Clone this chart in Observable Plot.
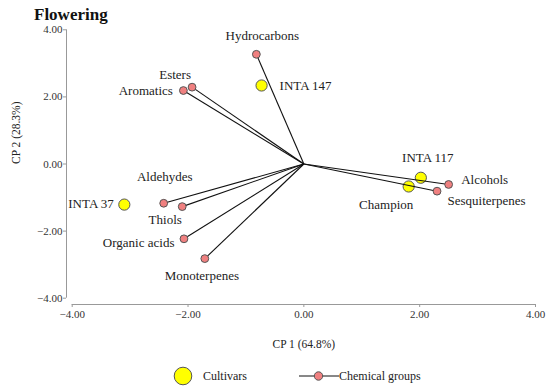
<!DOCTYPE html>
<html>
<head>
<meta charset="utf-8">
<script src="https://cdn.jsdelivr.net/npm/d3@7"></script>
<script src="https://cdn.jsdelivr.net/npm/@observablehq/plot@0.6"></script>
<style>
  html, body { margin: 0; padding: 0; background: #fff; }
  #wrap { position: relative; width: 550px; height: 392px; font-family: "Liberation Serif", serif; color: #222; }
  #title { position: absolute; left: 34px; top: 6px; font-size: 17px; line-height: 17px; font-weight: bold; color: #111; z-index: 2; }
  #legend { position: absolute; left: 173px; top: 366px; height: 20px; display: flex; align-items: center; font-size: 12px; color: #222; z-index: 2; }
  #legend svg { display: block; }
</style>
</head>
<body>
<div id="wrap">
  <div id="title">Flowering</div>
  <div id="chart"></div>
  <div id="legend">
    <svg width="20" height="20"><circle cx="10" cy="10" r="8.8" fill="#ffff00" stroke="#555" stroke-width="1"/></svg>
    <span style="margin-left:10px">Cultivars</span>
    <svg width="40" height="20" style="margin-left:52px"><line x1="0" y1="10" x2="40" y2="10" stroke="#111" stroke-width="1"/><circle cx="19.5" cy="10" r="4.2" fill="#f08080" stroke="#555" stroke-width="1"/></svg>
    <span>Chemical groups</span>
  </div>
</div>
<script>
// Cultivars (yellow points)
const cultivars = ["INTA 147", "INTA 37", "INTA 117", "Champion"];
const cultivarX = [-0.73, -3.10, 2.02, 1.81];
const cultivarY = [2.34, -1.21, -0.41, -0.67];

// Chemical groups (vectors from origin)
const groups = ["Hydrocarbons", "Esters", "Aromatics", "Aldehydes", "Thiols", "Organic acids", "Monoterpenes", "Alcohols", "Sesquiterpenes"];
const groupX = [-0.82, -1.93, -2.08, -2.42, -2.10, -2.07, -1.71, 2.50, 2.30];
const groupY = [3.27, 2.29, 2.19, -1.17, -1.27, -2.23, -2.82, -0.61, -0.81];

// Axis ticks
const ticks = [-4, -2, 0, 2, 4];
const xLabel = "CP 1 (64.8%)";
const yLabel = "CP 2 (28.3%)";

// label placement (style, in pixels relative to point)
const labelStyle = {
  "Hydrocarbons": {anchor: "middle", dx: 6, dy: -18},
  "INTA 147": {anchor: "start", dx: 18, dy: 0},
  "Esters": {anchor: "middle", dx: -17, dy: -12},
  "Aromatics": {anchor: "end", dx: -10.5, dy: 0.5},
  "Aldehydes": {anchor: "middle", dx: 1, dy: -26},
  "INTA 37": {anchor: "end", dx: -10.5, dy: -1},
  "Thiols": {anchor: "middle", dx: -17, dy: 13},
  "Organic acids": {anchor: "end", dx: -9.5, dy: 4.5},
  "Monoterpenes": {anchor: "middle", dx: -3, dy: 17},
  "INTA 117": {anchor: "middle", dx: 7, dy: -19.5},
  "Alcohols": {anchor: "start", dx: 12.5, dy: -4.5},
  "Sesquiterpenes": {anchor: "start", dx: 10.5, dy: 9.5},
  "Champion": {anchor: "middle", dx: -22.5, dy: 18}
};

const cultData = cultivars.map((name, i) => ({name, x: cultivarX[i], y: cultivarY[i]}));
const groupData = groups.map((name, i) => ({name, x: groupX[i], y: groupY[i]}));
const allLabels = [...groupData, ...cultData];

const fmt = d3.format(".2f");

const labelMarks = allLabels.map(d => {
  const s = labelStyle[d.name];
  return Plot.text([d], {x: "x", y: "y", text: "name", textAnchor: s.anchor, dx: s.dx, dy: s.dy, fill: "#222", fontSize: 13});
});

const chart = Plot.plot({
  width: 550,
  height: 392,
  marginLeft: 71.7,
  marginRight: 15,
  marginTop: 29.3,
  marginBottom: 94.3,
  x: {domain: [-4, 4], axis: null},
  y: {domain: [-4, 4], axis: null},
  style: {fontFamily: "'Liberation Serif', serif", fontSize: "13px", background: "transparent", overflow: "visible"},
  marks: [
    // axis lines (offset from the frame)
    Plot.ruleX([-4], {y1: -4, y2: 4, dx: -5.7, stroke: "#999", strokeWidth: 1}),
    Plot.ruleY([-4], {x1: -4, x2: 4, dy: 6.3, stroke: "#999", strokeWidth: 1}),
    Plot.axisX({ticks, tickSize: 3, tickPadding: 3, dy: 6.3, tickFormat: fmt, stroke: "#999", fill: "#333", fontSize: 11, label: null}),
    Plot.axisY({ticks, tickSize: 3, tickPadding: 1, dx: -5.7, tickFormat: fmt, stroke: "#999", fill: "#333", fontSize: 11, label: null}),
    Plot.text([xLabel], {frameAnchor: "bottom", dy: 49.5, fill: "#222", fontSize: 11.5}),
    Plot.text([yLabel], {frameAnchor: "left", dx: -56, rotate: -90, fill: "#222", fontSize: 11.5}),
    // cultivars
    Plot.dot(cultData, {x: "x", y: "y", r: 5.6, fill: "#ffff00", stroke: "#555", strokeWidth: 1}),
    // vectors
    Plot.link(groupData, {x1: 0, y1: 0, x2: "x", y2: "y", stroke: "#111", strokeWidth: 1.1}),
    Plot.dot(groupData, {x: "x", y: "y", r: 3.9, fill: "#f08080", stroke: "#555", strokeWidth: 1}),
    ...labelMarks
  ]
});
document.getElementById("chart").appendChild(chart);
</script>
</body>
</html>
